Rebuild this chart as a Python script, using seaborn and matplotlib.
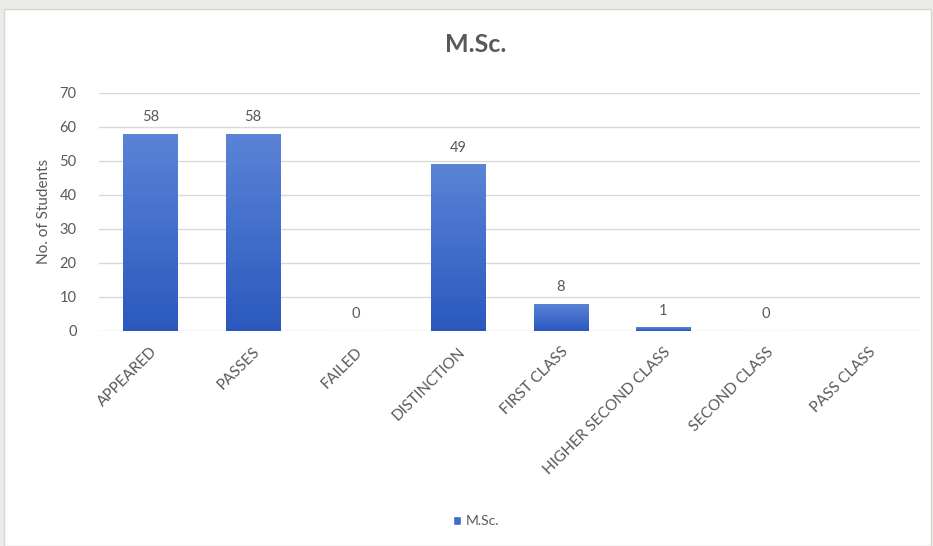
import numpy as np
import pandas as pd
import seaborn as sns
import matplotlib.pyplot as plt
from matplotlib.colors import LinearSegmentedColormap
from matplotlib.patches import Rectangle

# -----------------------------------
# Data
# -----------------------------------
categories = ["APPEARED", "PASSES", "FAILED", "DISTINCTION", "FIRST CLASS",
              "HIGHER SECOND CLASS", "SECOND CLASS", "PASS CLASS"]
students = [58, 58, 0, 49, 8, 1, 0, np.nan]
series_name = "M.Sc."

df = pd.DataFrame({"category": categories, "students": students})

sns.set_theme(style="white")
plt.rcParams["font.family"] = ["Lato", "DejaVu Sans"]

txt = "#595959"
grid = "#D9D9D9"

fig = plt.figure(figsize=(9.33, 5.46), dpi=100)
fig.patch.set_facecolor("#ECEBE7")
# white chart area with thin border
fig.add_artist(Rectangle((4 / 933, 0), 927 / 933, 1 - 9 / 546,
                         transform=fig.transFigure, facecolor="white",
                         edgecolor="#D6D6D6", linewidth=1, zorder=0))

ax = fig.add_axes([0.106, 0.394, 0.880, 0.436])
ax.set_facecolor("none")

sns.barplot(data=df, x="category", y="students", color="#3F6CCB",
            width=0.53, ax=ax, zorder=2)

# vertical gradient fill on each bar
cmap = LinearSegmentedColormap.from_list("bar", ["#2A58BE", "#5B84D7"])
grad = np.linspace(0, 1, 256).reshape(-1, 1)
for p in ax.patches:
    x0, y0 = p.get_x(), p.get_y()
    w, h = p.get_width(), p.get_height()
    if not np.isfinite(h) or h <= 0:
        continue
    im = ax.imshow(grad, cmap=cmap, origin="lower", aspect="auto",
                   extent=(x0, x0 + w, y0, y0 + h), zorder=3)
    im.set_clip_path(p)

# value labels
for i, v in enumerate(students):
    if np.isnan(v):
        continue
    ax.annotate(f"{int(v)}", (i, v), xytext=(0, 7), textcoords="offset points",
                ha="center", va="bottom", fontsize=10.5, color=txt)

ax.set_xlim(-0.5, len(categories) - 0.5)
ax.set_ylim(0, 70)
ax.set_yticks(range(0, 71, 10))
ax.yaxis.grid(True, color=grid, linewidth=1, zorder=0)
ax.set_axisbelow(True)
for s in ax.spines.values():
    s.set_visible(False)
ax.tick_params(axis="both", length=0, colors=txt, labelsize=10.5)
ax.tick_params(axis="y", pad=16)
ax.set_xticks(range(len(categories)))
ax.set_xticklabels(categories, rotation=45, ha="right", rotation_mode="anchor",
                   fontsize=11)
ax.tick_params(axis="x", pad=10)
ax.set_xlabel("")
ax.set_ylabel("No. of Students", color=txt, fontsize=11, labelpad=6)

fig.text(0.51, 0.918, "M.Sc.", ha="center", va="center",
         fontsize=18, fontweight="bold", color=txt)

handle = Rectangle((0, 0), 1, 1, facecolor="#3F6CCB")
fig.legend([handle], [series_name], loc="center", bbox_to_anchor=(0.51, 0.045),
           frameon=False, fontsize=10, labelcolor=txt, handlelength=0.6,
           handleheight=0.6, handletextpad=0.3)

fig.savefig("out.png", dpi=100)
